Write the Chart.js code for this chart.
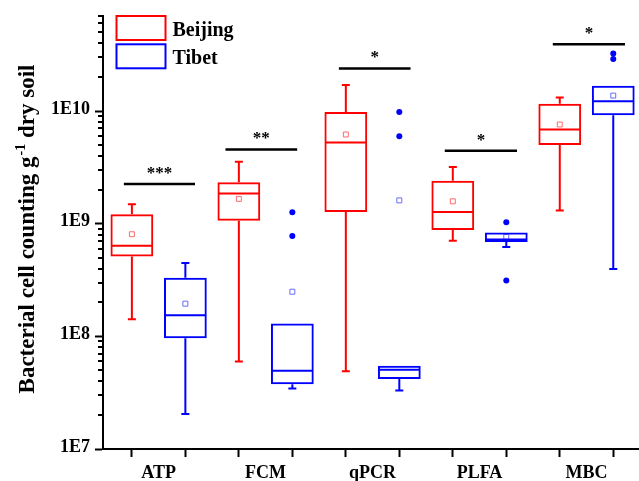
<!DOCTYPE html>
<html><head><meta charset="utf-8">
<script src="https://cdn.jsdelivr.net/npm/chart.js@4/dist/chart.umd.min.js"></script>
<style>
html,body{margin:0;padding:0;overflow:hidden;background:#fff;}
#wrap{position:relative;width:645px;height:481px;}
</style></head><body>
<div id="wrap"><canvas id="c"></canvas></div>
<script>
// ---- data ----
const categories = ['ATP','FCM','qPCR','PLFA','MBC'];
const seriesNames = ['Beijing','Tibet'];
const beijingPos = [1,3,5,7,9];
const tibetPos = [2,4,6,8,10];

const beijingWhiskerLow  = [1.42e8, 5.98e7, 4.89e7, 7.04e8, 1.31e9];
const beijingQ1          = [5.12e8, 1.06e9, 1.27e9, 8.79e8, 4.99e9];
const beijingMedian      = [6.36e8, 1.85e9, 5.26e9, 1.27e9, 6.85e9];
const beijingQ3          = [1.21e9, 2.33e9, 9.80e9, 2.41e9, 1.16e10];
const beijingWhiskerHigh = [1.49e9, 3.54e9, 1.70e10, 3.18e9, 1.32e10];
const beijingMean        = [8.06e8, 1.66e9, 6.19e9, 1.58e9, 7.59e9];
const beijingOutliers    = [[], [], [], [], []];

const tibetWhiskerLow  = [2.05e7, 3.44e7, 3.30e7, 6.20e8, 3.97e8];
const tibetQ1          = [9.60e7, 3.76e7, 4.19e7, 6.86e8, 9.17e9];
const tibetMedian      = [1.54e8, 4.95e7, 5.06e7, 7.23e8, 1.22e10];
const tibetQ3          = [3.31e8, 1.30e8, 5.48e7, 8.33e8, 1.68e10];
const tibetWhiskerHigh = [4.48e8, 1.30e8, 5.48e7, 8.33e8, 1.68e10];
const tibetMean        = [1.95e8, 2.49e8, 1.61e9, 7.64e8, 1.37e10];
const tibetOutliers    = [[], [1.26e9, 7.79e8], [9.8e9, 5.98e9], [1.03e9, 3.13e8], [3.24e10, 2.89e10]];

const sigStart = [0.85, 2.75, 4.87, 6.85, 8.87];
const sigEnd   = [2.18, 4.09, 6.21, 8.20, 10.22];
const sigLevel = [2.25e9, 4.56e9, 2.39e10, 4.45e9, 3.91e10];
const sigStars = ['***', '**', '*', '*', '*'];

const yTickValues = [1e7, 1e8, 1e9, 1e10];
const yTickLabels = ['1E7', '1E8', '1E9', '1E10'];
const yMin = 1e7, yMax = 7e10;
const xMin = 0.46, xMax = 10.5;
const yTitleMain = 'Bacterial cell counting g';
const yTitleSup = '-1';
const yTitleEnd = ' dry soil';

// ---- style ----
const RED = '#ff0000', BLUE = '#0000ff';
const RED_MEAN = '#ff6a6a', BLUE_MEAN = '#6a6aff';
const FONT = "'Liberation Serif','Times New Roman',serif";

function boxData(pos, q1, q3) { return pos.map((p, i) => ({x: p, y: [q1[i], q3[i]]})); }
function points(pos, vals) { return pos.map((p, i) => ({x: p, y: vals[i]})); }
function outlierPoints(pos, outs) {
  const r = [];
  pos.forEach((p, i) => outs[i].forEach(v => r.push({x: p, y: v})));
  return r;
}
function sigSegments() {
  const r = [];
  for (let i = 0; i < sigStart.length; i++) {
    r.push({x: sigStart[i], y: sigLevel[i]}, {x: sigEnd[i], y: sigLevel[i]}, {x: sigEnd[i], y: null});
  }
  return r;
}

const groups = [
  {pos: beijingPos, lo: beijingWhiskerLow, q1: beijingQ1, med: beijingMedian, q3: beijingQ3, hi: beijingWhiskerHigh, color: RED, meta: 0},
  {pos: tibetPos, lo: tibetWhiskerLow, q1: tibetQ1, med: tibetMedian, q3: tibetQ3, hi: tibetWhiskerHigh, color: BLUE, meta: 1}
];

const boxDetails = {
  id: 'boxDetails',
  afterDatasetsDraw(chart) {
    const {ctx, scales: {x, y}} = chart;
    ctx.save();
    ctx.lineWidth = 2;
    groups.forEach(g => {
      const meta = chart.getDatasetMeta(g.meta);
      ctx.strokeStyle = g.color;
      g.pos.forEach((p, i) => {
        const px = x.getPixelForValue(p);
        const half = meta.data[i].width / 2;
        const capHalf = 4;
        const yq1 = y.getPixelForValue(g.q1[i]);
        const yq3 = y.getPixelForValue(g.q3[i]);
        const ylo = y.getPixelForValue(g.lo[i]);
        const yhi = y.getPixelForValue(g.hi[i]);
        const ymed = y.getPixelForValue(g.med[i]);
        ctx.beginPath();
        if (g.hi[i] > g.q3[i]) {
          ctx.moveTo(px, yq3); ctx.lineTo(px, yhi);
          ctx.moveTo(px - capHalf, yhi); ctx.lineTo(px + capHalf, yhi);
        }
        if (g.lo[i] < g.q1[i]) {
          ctx.moveTo(px, yq1); ctx.lineTo(px, ylo);
          ctx.moveTo(px - capHalf, ylo); ctx.lineTo(px + capHalf, ylo);
        }
        ctx.moveTo(px - half + 1, ymed); ctx.lineTo(px + half - 1, ymed);
        ctx.stroke();
      });
    });
    ctx.restore();
  },
  afterDraw(chart) {
    const {ctx, scales: {x, y}, chartArea} = chart;
    ctx.save();
    // minor ticks on log axis
    ctx.strokeStyle = '#000';
    ctx.lineWidth = 2;
    ctx.beginPath();
    for (let e = Math.floor(Math.log10(yMin)); e <= Math.ceil(Math.log10(yMax)); e++) {
      for (let k = 2; k <= 9; k++) {
        const v = k * Math.pow(10, e);
        if (v < yMin || v > yMax) continue;
        const py = Math.round(y.getPixelForValue(v));
        ctx.moveTo(chartArea.left - 1, py);
        ctx.lineTo(chartArea.left - 5, py);
      }
    }
    ctx.stroke();
    // significance stars
    ctx.fillStyle = '#000';
    ctx.font = 'bold 17px ' + FONT;
    ctx.textAlign = 'center';
    ctx.textBaseline = 'alphabetic';
    sigStars.forEach((s, i) => {
      const cx = x.getPixelForValue((sigStart[i] + sigEnd[i]) / 2);
      const cy = y.getPixelForValue(sigLevel[i]);
      ctx.fillText(s, cx, cy - 6);
    });
    // legend
    ctx.lineWidth = 2;
    const lx = 116.5, lw = 49, lh = 24;
    const rows = [{top: 16, color: RED, base: 36}, {top: 44.3, color: BLUE, base: 63.5}];
    ctx.font = 'bold 20px ' + FONT;
    ctx.textAlign = 'left';
    rows.forEach((r, i) => {
      ctx.strokeStyle = r.color;
      ctx.strokeRect(lx, r.top, lw, lh);
      ctx.fillText(seriesNames[i], 172.5, r.base);
    });
    // y axis title with superscript
    ctx.translate(33.5, 229);
    ctx.rotate(-Math.PI / 2);
    const mainFont = 'bold 23px ' + FONT, supFont = 'bold 14px ' + FONT;
    ctx.font = mainFont; const w1 = ctx.measureText(yTitleMain).width; const w3 = ctx.measureText(yTitleEnd).width;
    ctx.font = supFont; const w2 = ctx.measureText(yTitleSup).width;
    let sx = -(w1 + w2 + w3 + 1) / 2;
    ctx.font = mainFont; ctx.fillText(yTitleMain, sx, 0);
    ctx.font = supFont; ctx.fillText(yTitleSup, sx + w1 + 1, -9);
    ctx.font = mainFont; ctx.fillText(yTitleEnd, sx + w1 + w2 + 1, 0);
    ctx.restore();
  }
};

const chart = new Chart(document.getElementById('c'), {
  type: 'bar',
  data: {
    datasets: [
      {label: seriesNames[0], type: 'bar', data: boxData(beijingPos, beijingQ1, beijingQ3),
       backgroundColor: 'rgba(0,0,0,0)', borderColor: RED, borderWidth: 2, borderSkipped: false,
       grouped: false, barPercentage: 0.8, categoryPercentage: 1, xAxisID: 'x', yAxisID: 'y'},
      {label: seriesNames[1], type: 'bar', data: boxData(tibetPos, tibetQ1, tibetQ3),
       backgroundColor: 'rgba(0,0,0,0)', borderColor: BLUE, borderWidth: 2, borderSkipped: false,
       grouped: false, barPercentage: 0.8, categoryPercentage: 1, xAxisID: 'x', yAxisID: 'y'},
      {label: 'Beijing mean', type: 'line', showLine: false, data: points(beijingPos, beijingMean),
       pointStyle: 'rect', pointRadius: 3.5, pointBorderWidth: 1, pointBorderColor: RED_MEAN,
       pointBackgroundColor: 'rgba(0,0,0,0)', xAxisID: 'x', yAxisID: 'y'},
      {label: 'Tibet mean', type: 'line', showLine: false, data: points(tibetPos, tibetMean),
       pointStyle: 'rect', pointRadius: 3.5, pointBorderWidth: 1, pointBorderColor: BLUE_MEAN,
       pointBackgroundColor: 'rgba(0,0,0,0)', xAxisID: 'x', yAxisID: 'y'},
      {label: 'Beijing outliers', type: 'line', showLine: false, data: outlierPoints(beijingPos, beijingOutliers),
       pointStyle: 'circle', pointRadius: 3, pointBorderWidth: 0, pointBackgroundColor: RED, xAxisID: 'x', yAxisID: 'y'},
      {label: 'Tibet outliers', type: 'line', showLine: false, data: outlierPoints(tibetPos, tibetOutliers),
       pointStyle: 'circle', pointRadius: 3, pointBorderWidth: 0, pointBackgroundColor: BLUE, xAxisID: 'x', yAxisID: 'y'},
      {label: 'significance', type: 'line', data: sigSegments(), borderColor: '#000', borderWidth: 2.5,
       pointRadius: 0, spanGaps: false, fill: false, xAxisID: 'x', yAxisID: 'y'}
    ]
  },
  options: {
    responsive: true,
    maintainAspectRatio: false,
    devicePixelRatio: 1,
    animation: false,
    events: [],
    layout: {padding: {top: 13, left: 0, right: 0, bottom: 0}},
    plugins: {legend: {display: false}, tooltip: {enabled: false}},
    scales: {
      x: {
        type: 'linear', axis: 'x', position: 'bottom', weight: 0, min: xMin, max: xMax, offset: false,
        afterBuildTicks: s => { s.ticks = beijingPos.concat(tibetPos).sort((a, b) => a - b).map(v => ({value: v})); },
        afterFit: s => { s.height = 8; },
        ticks: {autoSkip: false, callback: () => ''},
        grid: {drawOnChartArea: false, offset: false, tickLength: 8, tickWidth: 2, tickColor: '#000'},
        border: {display: true, color: '#000', width: 2}
      },
      x2: {
        type: 'linear', axis: 'x', position: 'bottom', weight: 1, min: xMin, max: xMax, offset: false,
        afterBuildTicks: s => { s.ticks = beijingPos.map((p, i) => ({value: (p + tibetPos[i]) / 2})); },
        afterFit: s => { s.height = 24; },
        ticks: {autoSkip: false, maxRotation: 0, padding: 6, color: '#000',
                font: {family: FONT, size: 18, weight: 'bold'},
                callback: (v, i) => categories[i]},
        grid: {display: false, drawTicks: false},
        border: {display: false}
      },
      y: {
        type: 'logarithmic', position: 'left', min: yMin, max: yMax,
        afterBuildTicks: s => { s.ticks = yTickValues.map(v => ({value: v})); },
        afterFit: s => { s.width = 103; },
        ticks: {autoSkip: false, padding: 5, color: '#000', labelOffset: -2,
                font: {family: FONT, size: 18, weight: 'bold'},
                callback: v => { const i = yTickValues.indexOf(v); return i >= 0 ? yTickLabels[i] : ''; }},
        grid: {drawOnChartArea: false, tickLength: 8, tickWidth: 2, tickColor: '#000'},
        border: {display: true, color: '#000', width: 2},
        title: {display: false}
      }
    }
  },
  plugins: [boxDetails]
});
</script>
</body></html>
